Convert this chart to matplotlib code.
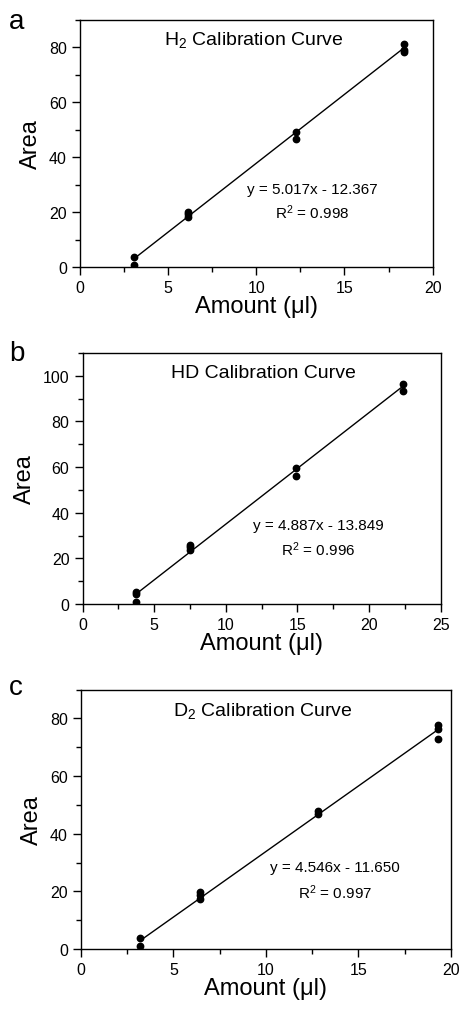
import numpy as np
import matplotlib.pyplot as plt
from matplotlib.ticker import MultipleLocator, AutoMinorLocator

plt.rcParams['font.family'] = ['Liberation Sans', 'DejaVu Sans']
plt.rcParams['mathtext.fontset'] = 'custom'
plt.rcParams['mathtext.rm'] = 'Liberation Sans'
plt.rcParams['mathtext.it'] = 'Liberation Sans'

# measured points (amount in ul, peak area)
h2_x = [3.06, 3.06, 6.12, 6.12, 6.12, 12.25, 12.25, 18.37, 18.37, 18.37]
h2_y = [3.5, 0.6, 20.1, 19.2, 18.3, 49.0, 46.5, 81.4, 79.0, 78.5]
hd_x = [3.73, 3.73, 3.73, 7.46, 7.46, 7.46, 14.92, 14.92, 22.38, 22.38]
hd_y = [5.2, 4.5, 0.8, 25.8, 24.8, 23.6, 59.6, 56.2, 96.6, 93.4]
d2_x = [3.19, 3.19, 6.44, 6.44, 6.44, 12.84, 12.84, 19.3, 19.3, 19.3]
d2_y = [3.7, 0.9, 19.8, 18.6, 17.4, 47.8, 46.9, 77.6, 76.2, 72.8]

# linear fits (slope, intercept, r2) as printed on the figure
fits = [(5.017, -12.367, 0.998), (4.887, -13.849, 0.996), (4.546, -11.650, 0.997)]
titles = ["H$_2$ Calibration Curve", "HD Calibration Curve", "D$_2$ Calibration Curve"]
letters = ["a", "b", "c"]
xlims = [20, 25, 20]
ylims = [90, 110, 90]

fig = plt.figure(figsize=(4.64, 10.12), dpi=100)
rects = [[0.1724, 0.7352, 0.760, 0.2441],
         [0.1782, 0.4022, 0.7716, 0.2480],
         [0.1746, 0.0613, 0.7968, 0.2562]]
title_x = [0.493, 0.504, 0.493]
eq_x = [0.658, 0.658, 0.687]
letter_y = [0.978, 0.650, 0.320]
data = [(h2_x, h2_y), (hd_x, hd_y), (d2_x, d2_y)]

for i in range(3):
	ax = fig.add_axes(rects[i])
	xs, ys = data[i]
	m, b, r2 = fits[i]
	ax.plot(xs, ys, 'o', color='black', markersize=4.6, zorder=3)
	xl = np.array([min(xs), max(xs)])
	ax.plot(xl, m*xl + b, '-', color='black', lw=1)

	ax.set_xlim(0, xlims[i])
	ax.set_ylim(0, ylims[i])
	ax.xaxis.set_major_locator(MultipleLocator(5))
	ax.yaxis.set_major_locator(MultipleLocator(20))
	ax.xaxis.set_minor_locator(AutoMinorLocator(2))
	ax.yaxis.set_minor_locator(AutoMinorLocator(2))
	ax.tick_params(which='major', direction='out', length=6, width=1, labelsize=11.5, top=False, right=False)
	ax.tick_params(which='minor', direction='out', length=3.5, width=1, top=False, right=False)
	for s in ax.spines.values():
		s.set_linewidth(1)

	ax.set_xlabel("Amount (\u03bcl)", fontsize=17, labelpad=0)
	ax.set_ylabel("Area", fontsize=17, labelpad=5)

	ax.text(title_x[i], 0.923, titles[i], transform=ax.transAxes, ha='center', va='center', fontsize=14)
	ax.text(eq_x[i], 0.316, f"y = {m:.3f}x - {abs(b):.3f}", transform=ax.transAxes,
		ha='center', va='center', fontsize=11)
	ax.text(eq_x[i], 0.222, f"R$^2$ = {r2:.3f}", transform=ax.transAxes,
		ha='center', va='center', fontsize=11)

	# panel letter
	fig.text(0.02, letter_y[i], letters[i], fontsize=20, va='center')

plt.savefig("out.png", dpi=100)
